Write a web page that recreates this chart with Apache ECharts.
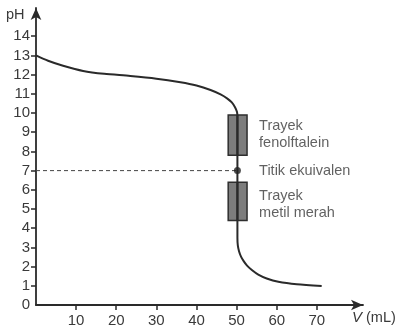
<!DOCTYPE html>
<html>
<head>
<meta charset="utf-8">
<script src="https://cdn.jsdelivr.net/npm/echarts@6/dist/echarts.min.js"></script>
<style>
html,body{margin:0;padding:0;background:#fff;}
#c{width:400px;height:335px;}
</style>
</head>
<body>
<div id="c"></div>
<script>
// Titration curve (volume in mL, pH)
var volume = [0, 3, 6.75, 11.75, 17, 23.5, 30, 36, 40, 43.5, 46, 47.7, 48.8, 49.6, 50.1, 50.2, 50.2, 50.3, 50.6, 51.1, 51.8, 52.6, 53.8, 55.4, 57.5, 60.4, 65, 71.2];
var ph     = [13, 12.72, 12.46, 12.19, 12.04, 11.93, 11.79, 11.6, 11.43, 11.2, 10.97, 10.75, 10.55, 10.3, 10.05, 9.8, 3.5, 3.1, 2.8, 2.52, 2.27, 2.05, 1.82, 1.58, 1.38, 1.21, 1.08, 0.99];

// Indicator ranges as drawn [vStart, vEnd, pHLow, pHHigh]
var phenolphthaleinRange = [47.9, 52.6, 7.8, 9.9];
var methylRedRange       = [47.9, 52.6, 4.4, 6.4];

// Equivalence point
var equivalencePoint = [50.2, 7];

// Tick labels
var yTickLabels = [0,1,2,3,4,5,6,7,8,9,10,11,12,13,14];
var yTickMarks  = [1,2,3,4,5,6,7,8,9,10,11,12,13,14];
var xTickLabels = [10,20,30,40,50,60,70];

// Annotations: [x, y, text]
var annotations = [
  [55.6, 8.88, 'Trayek\nfenolftalein'],
  [55.6, 6.98, 'Titik ekuivalen'],
  [55.6, 5.24, 'Trayek\nmetil merah']
];

var curve = volume.map(function(v, i){ return [v, ph[i]]; });
var font = '"Liberation Sans", Arial, sans-serif';
var textColor = '#3a3a3a';

var chart = echarts.init(document.getElementById('c'), null, {renderer: 'canvas'});
chart.setOption({
  animation: false,
  backgroundColor: '#fff',
  grid: {left: 36, right: 37, top: 8, bottom: 30, containLabel: false},
  xAxis: {
    type: 'value', min: 0, max: 81.5,
    splitLine: {show: false},
    axisLine: {show: true, lineStyle: {color: '#2a2a2a', width: 1.8}, symbol: ['none', 'arrow'], symbolSize: [8, 12]},
    axisTick: {show: true, length: 5, lineStyle: {color: '#2a2a2a', width: 1.5}, customValues: xTickLabels},
    axisLabel: {show: true, customValues: xTickLabels, margin: 8, fontSize: 15, color: textColor, fontFamily: font}
  },
  yAxis: {
    type: 'value', min: 0, max: 15.47,
    splitLine: {show: false},
    axisLine: {show: true, lineStyle: {color: '#2a2a2a', width: 1.8}, symbol: ['none', 'arrow'], symbolSize: [8, 12]},
    axisTick: {show: true, length: 5, lineStyle: {color: '#2a2a2a', width: 1.5}, customValues: yTickMarks},
    axisLabel: {show: true, customValues: yTickLabels, margin: 6, fontSize: 15, color: textColor, fontFamily: font}
  },
  series: [
    {
      type: 'line',
      name: 'dashed',
      data: [[0, equivalencePoint[1]], equivalencePoint],
      symbol: 'none',
      lineStyle: {color: '#444', width: 1, type: [4, 3]},
      z: 1
    },
    {
      type: 'custom',
      name: 'ranges',
      z: 2,
      silent: true,
      data: [phenolphthaleinRange, methylRedRange],
      renderItem: function(params, api){
        var p1 = api.coord([api.value(0), api.value(3)]);
        var p2 = api.coord([api.value(1), api.value(2)]);
        var cx = api.coord([equivalencePoint[0], 0])[0];
        return {
          type: 'group',
          children: [
            {
              type: 'rect', z2: 0,
              shape: {x: p1[0], y: p1[1], width: p2[0] - p1[0], height: p2[1] - p1[1]},
              style: {fill: '#7d7d7d', stroke: '#2e2e2e', lineWidth: 1.5}
            },
            {
              type: 'line', z2: 1,
              shape: {x1: cx, y1: p1[1], x2: cx, y2: p2[1]},
              style: {stroke: '#2a2a2a', lineWidth: 2}
            }
          ]
        };
      }
    },
    {
      type: 'line',
      name: 'pH',
      data: curve,
      symbol: 'none',
      smooth: 0.25,
      lineStyle: {color: '#2a2a2a', width: 2},
      z: 5
    },
    {
      type: 'scatter',
      data: [equivalencePoint],
      symbol: 'circle',
      symbolSize: 7,
      itemStyle: {color: '#222'},
      z: 6
    },
    {
      type: 'scatter',
      data: annotations.map(function(a){ return {value: [a[0], a[1]], name: a[2]}; }),
      symbolSize: 0,
      silent: true,
      label: {
        show: true, position: 'right', distance: 0,
        formatter: function(p){ return p.name; },
        fontSize: 14.5, lineHeight: 17, color: textColor, fontFamily: font
      }
    }
  ],
  graphic: [
    {type: 'text', left: 6, top: 7, style: {text: 'pH', fontSize: 14.5, fill: textColor, fontFamily: font}},
    {type: 'text', left: 352, top: 310, style: {
      text: '{i|V} (mL)', fill: textColor, fontSize: 14.5, fontFamily: font,
      rich: {i: {fontStyle: 'italic', fontSize: 15, fill: textColor, fontFamily: font}}
    }}
  ]
});
</script>
</body>
</html>
